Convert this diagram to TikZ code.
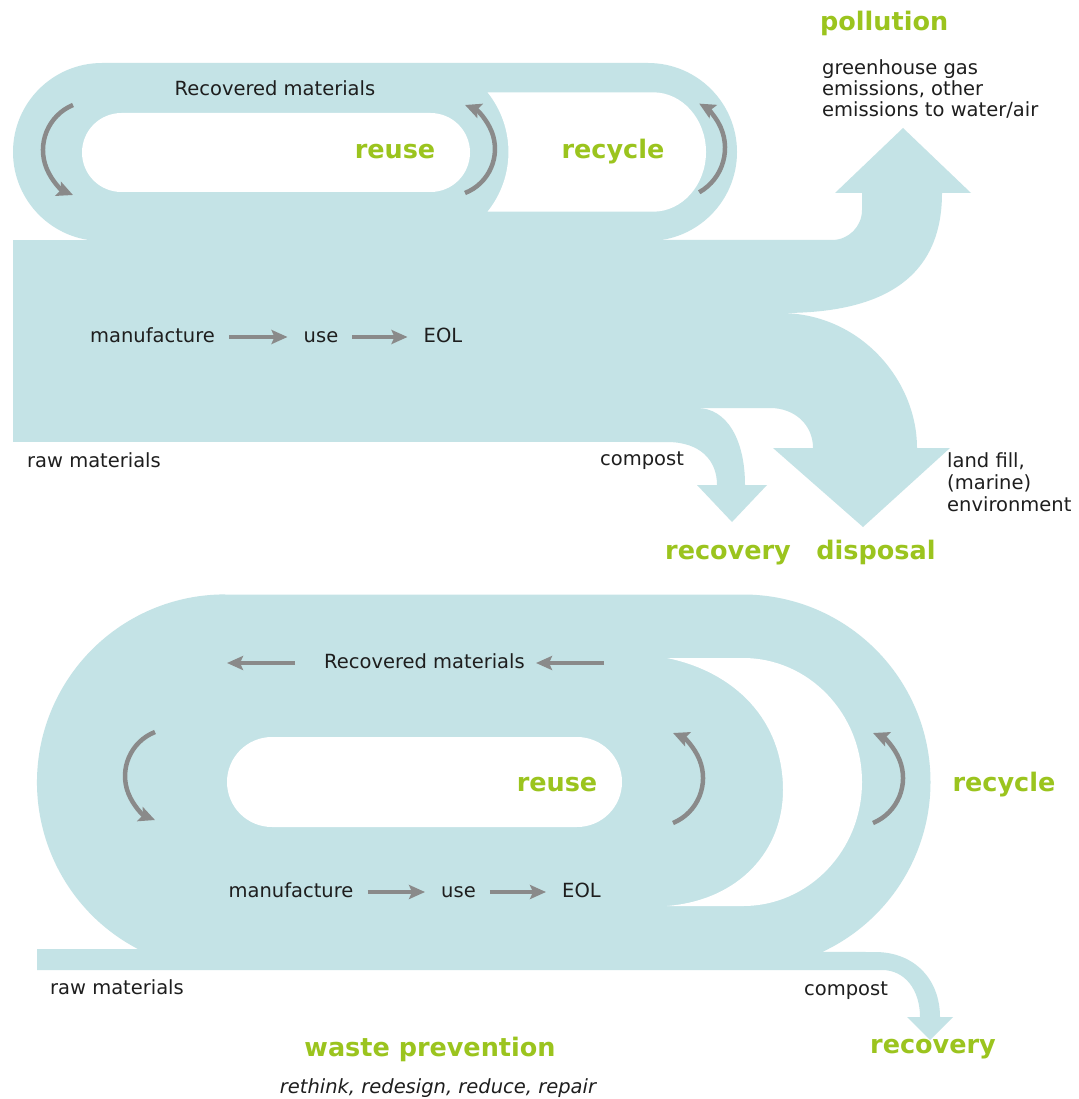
\documentclass[tikz,border=0pt]{standalone}
\usepackage{fontspec}
\setmainfont{DejaVu Sans}
\usetikzlibrary{arrows.meta}
\definecolor{flow}{RGB}{196,227,230}
\definecolor{leaf}{RGB}{155,196,30}
\definecolor{arr}{RGB}{138,138,138}
\definecolor{ink}{RGB}{30,30,30}
\tikzset{
  flowfill/.style={fill=flow},
  hole/.style={fill=white},
  txt/.style={font=\fontsize{19.5}{22}\selectfont, text=ink, inner sep=0pt, text height=14pt, text depth=4pt},
  itxt/.style={txt, font=\fontsize{19.5}{22}\selectfont\itshape},
  title/.style={font=\fontsize{25.5}{28}\selectfont\bfseries, text=leaf, inner sep=0pt, text height=19pt, text depth=6pt},
  garrow/.style={draw=arr, line width=4pt, -{Stealth[length=16pt,width=14pt,inset=3pt]}},
  cyc/.style={draw=arr, line width=4.5pt, -{Stealth[length=16pt,width=15pt,inset=3pt]}},
  chain/.style={garrow, shorten <=14pt, shorten >=16pt}
}
\begin{document}
\begin{tikzpicture}[x=1pt,y=-1pt]
\useasboundingbox (0,0) rectangle (1078,1099);
\fill[white] (0,0) rectangle (1078,1099);

% ================= TOP DIAGRAM =================
% outer loop (reuse + recycle)
\fill[flowfill] (102,63) -- (648,63) arc[start angle=-90,end angle=90,radius=89] -- (102,241) arc[start angle=90,end angle=270,radius=89] -- cycle;
% main body
\fill[flowfill] (13,240) rectangle (783,408);
\fill[flowfill] (13,400) rectangle (667,442);
% pollution branch
\fill[flowfill] (640,240) -- (832,240) arc[start angle=90,end angle=0,radius=30] -- (862,193) -- (835,193) -- (903,128) -- (971,193) -- (942,193) .. controls (942,280) and (880,313) .. (783,313) -- (640,313) -- cycle;
% disposal branch
\fill[flowfill] (700,313) -- (780,313) .. controls (860,313) and (917,380) .. (917,448) -- (950,448) -- (863,527) -- (773,448) -- (813,448) .. controls (813,425) and (795,408) .. (770,408) -- (700,408) -- cycle;
% compost branch
\fill[flowfill] (640,408) -- (697,408) .. controls (727,408) and (745,440) .. (745,485) -- (767,485) -- (732,522) -- (697,485) -- (717,485) .. controls (717,460) and (700,442) .. (667,442) -- (640,442) -- cycle;
% holes
\fill[hole, rounded corners=39.5pt] (82,113) rectangle (470,192);
\fill[hole] (487.5,92.3) -- (653,92.3) arc[start angle=-90,end angle=90,x radius=53,y radius=59.7] -- (487.5,211.7) arc[start angle=38.7,end angle=-38.7,radius=95.5] -- cycle;

% cycle arrows
\coordinate (ta1) at (73,105);
\coordinate (ta2) at (465,193);
\coordinate (ta3) at (699.2,192.3);
\draw[cyc] (ta1) arc[start angle=247.4,end angle=112.6,radius=48.75];
\draw[cyc] (ta2) arc[start angle=68.5,end angle=-68.5,radius=47.3];
\draw[cyc] (ta3) arc[start angle=60.4,end angle=-60.4,radius=51];

% texts
\node[txt] (recmatA) at (275,91) {Recovered materials};
\node[title] (reuseA) at (395,152) {reuse};
\node[title] (recycA) at (613,152) {recycle};
\node[txt] (manuA) at (152.5,337) {manufacture};
\node[txt] (useA) at (321,337) {use};
\node[txt] (eolA) at (443,337) {EOL};
\draw[chain] (manuA) -- (useA);
\draw[chain] (useA) -- (eolA);
\node[txt] (rawA) at (94,462) {raw materials};
\node[txt] (compA) at (642,460) {compost};
\node[title] (recovA) at (728,553) {recovery};
\node[title] (dispA) at (876,553) {disposal};
\node[title, anchor=west] (poll) at (820,24) {pollution};
\node[txt, anchor=west] (ghgA) at (822,70) {greenhouse gas};
\node[txt, anchor=west] (ghgB) at (822,91) {emissions, other};
\node[txt, anchor=west] (ghgC) at (822,112) {emissions to water/air};
\node[txt, anchor=west] (landA) at (947,462) {land fill,};
\node[txt, anchor=west] (landB) at (947,484) {(marine)};
\node[txt, anchor=west] (landC) at (947,506) {environment};

% ================= BOTTOM DIAGRAM =================
\fill[flowfill] (225,594.5) -- (743,594.5) arc[start angle=-90,end angle=65,radius=187.5] -- (875,952) .. controls (915,952) and (940,980) .. (940,1017) -- (953,1017) -- (930,1040) -- (907,1017) -- (920,1017) .. controls (920,990) and (905,970) .. (882,970) -- (37,970) -- (37,949) -- (137.9,949) arc[start angle=117.6,end angle=270,radius=188] -- cycle;
\fill[hole] (667,658) -- (743,658) arc[start angle=-90,end angle=90,x radius=119,y radius=124] -- (667,906) .. controls (740,900) and (783,850) .. (783,790) .. controls (783,720) and (735,672) .. (667,658) -- cycle;
\fill[hole, rounded corners=45pt] (227,737) rectangle (622,827);

\coordinate (ba1) at (155,732);
\coordinate (ba2) at (673,823);
\coordinate (ba3) at (873,823);
\draw[cyc] (ba1) arc[start angle=248.5,end angle=111.5,radius=47.3];
\draw[cyc] (ba2) arc[start angle=67.4,end angle=-67.4,radius=48.75];
\draw[cyc] (ba3) arc[start angle=67.4,end angle=-67.4,radius=48.75];

\node[txt] (recmatB) at (424.5,663) {Recovered materials};
\coordinate (rl1) at (295,663);
\coordinate (rl2) at (227,663);
\coordinate (rr1) at (604,663);
\coordinate (rr2) at (536,663);
\draw[garrow] (rl1) -- (rl2);
\draw[garrow] (rr1) -- (rr2);
\node[title] (reuseB) at (557,785) {reuse};
\node[title] (recycB) at (1004,785) {recycle};
\node[txt] (manuB) at (291,892) {manufacture};
\node[txt] (useB) at (458.5,892) {use};
\node[txt] (eolB) at (581.5,892) {EOL};
\draw[chain] (manuB) -- (useB);
\draw[chain] (useB) -- (eolB);
\node[txt] (rawB) at (117,989) {raw materials};
\node[txt] (compB) at (846,990) {compost};
\node[title] (recovB) at (933,1047) {recovery};
\node[title] (waste) at (430,1050) {waste prevention};
\node[itxt] (rethink) at (438,1088) {rethink, redesign, reduce, repair};
\end{tikzpicture}
\end{document}
